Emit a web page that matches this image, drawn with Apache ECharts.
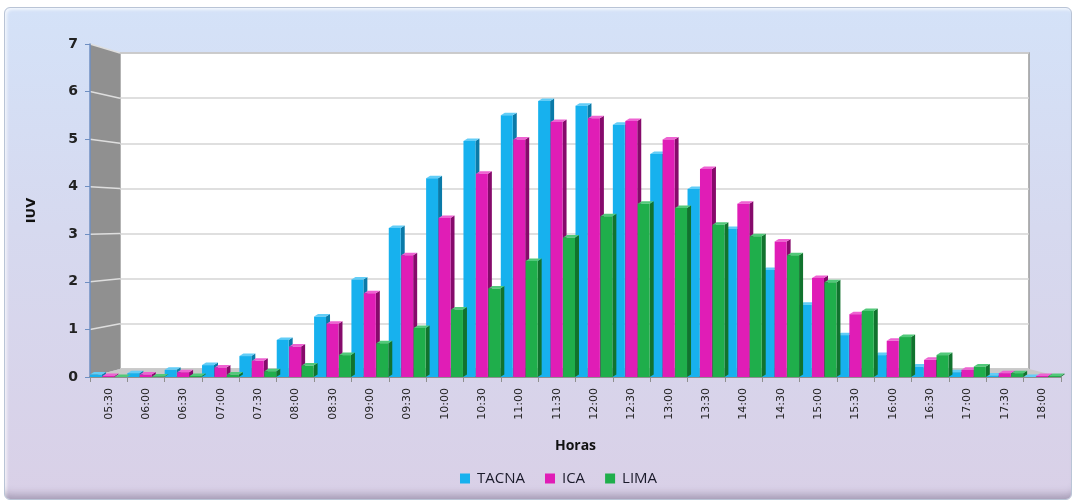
<!DOCTYPE html>
<html>
<head>
<meta charset="utf-8">
<script src="https://cdn.jsdelivr.net/npm/echarts@6/dist/echarts.min.js"></script>
<style>
  html, body { margin: 0; padding: 0; background: #fff; }
  #panel {
    position: absolute; left: 4px; top: 7px; width: 1068px; height: 493px;
    border-radius: 6px; border: 1px solid #b9c4d6; box-sizing: border-box;
    background: linear-gradient(to bottom, #d4e2f8 0%, #d6d9ef 45%, #d9d0e7 100%);
    box-shadow: inset 0 -12px 8px -8px rgba(60,50,80,0.35), inset 2px 2px 3px rgba(255,255,255,0.7);
  }
  #chart { position: absolute; left: 0; top: 0; width: 1076px; height: 502px; }
</style>
</head>
<body>
<div id="panel"></div>
<div id="chart"></div>
<script>
// horas
const horas = ['05:30', '06:00', '06:30', '07:00', '07:30', '08:00', '08:30', '09:00', '09:30',
  '10:00', '10:30', '11:00', '11:30', '12:00', '12:30', '13:00', '13:30', '14:00', '14:30',
  '15:00', '15:30', '16:00', '16:30', '17:00', '17:30', '18:00']

// IUV por ciudad
const tacna = [0.05, 0.08, 0.15, 0.25, 0.44, 0.78, 1.27, 2.05, 3.13, 4.18, 4.96, 5.5, 5.8, 5.7,
  5.3, 4.69, 3.95, 3.11, 2.25, 1.52, 0.88, 0.46, 0.22, 0.1, 0.03, 0]
const ica = [0.02, 0.05, 0.1, 0.2, 0.34, 0.64, 1.12, 1.76, 2.56, 3.34, 4.27, 4.99, 5.36, 5.44,
  5.38, 4.99, 4.37, 3.64, 2.85, 2.08, 1.32, 0.76, 0.36, 0.15, 0.08, 0.02]
const lima = [0, 0.01, 0.02, 0.05, 0.12, 0.24, 0.46, 0.71, 1.03, 1.42, 1.86, 2.44, 2.93, 3.38,
  3.64, 3.55, 3.2, 2.96, 2.56, 1.99, 1.39, 0.84, 0.46, 0.22, 0.08, 0.02]

const yTicks = [0, 1, 2, 3, 4, 5, 6, 7]

const colores = ['#17b1ee', '#e01db6', '#1fae4b']
const lados = ['#0a7aa8', '#860a6b', '#11732e']
const techos = ['#62cdf7', '#ee62d2', '#52c97a']

const myChart = echarts.init(document.getElementById('chart'))

// barra 3D: cara frontal + lateral + techo
function barra3d (params, api) {
  const k = params.seriesIndex
  const v = api.value(1)
  const c = api.coord([api.value(0), v])
  const base = api.coord([api.value(0), 0])[1]
  const bw = api.size([1, 0])[0]
  const w = bw / 3
  const d = 4 // profundidad
  const h = 2.5
  const x0 = c[0] - bw / 2 + k * w
  const x1 = x0 + w - 0.5
  const yt = c[1]
  return {
    type: 'group',
    children: [
      { type: 'polygon', shape: { points: [[x1, yt], [x1 + d, yt - h], [x1 + d, base - h], [x1, base]] },
        style: { fill: lados[k] } },
      { type: 'polygon', shape: { points: [[x0, yt], [x0 + d, yt - h], [x1 + d, yt - h], [x1, yt]] },
        style: { fill: techos[k] } },
      { type: 'rect', shape: { x: x0, y: yt, width: x1 - x0, height: base - yt },
        style: { fill: colores[k] } }
    ]
  }
}

function serie (nombre, datos) {
  return {
    name: nombre,
    type: 'custom',
    xAxisIndex: 0,
    yAxisIndex: 0,
    z: 5,
    renderItem: barra3d,
    encode: { x: 0, y: 1 },
    data: datos.map((v, i) => [i, v])
  }
}

const option = {
  animation: false,
  textStyle: { fontFamily: 'DejaVu Sans' },
  grid: [
    { left: 90, right: 15, top: 44, bottom: 125 },
    // pared del fondo
    { left: 120, right: 47, top: 53, bottom: 133, show: true, backgroundColor: '#ffffff',
      borderColor: '#9a9a9a', borderWidth: 1.5, z: 0 }
  ],
  legend: {
    bottom: 11,
    left: 455,
    icon: 'rect',
    itemWidth: 10,
    itemHeight: 10,
    itemGap: 20,
    textStyle: { fontSize: 15, color: '#1a1a2a', fontFamily: 'Open Sans', padding: [0, 0, 0, 2] },
    data: [
      { name: 'TACNA', itemStyle: { color: colores[0] } },
      { name: 'ICA', itemStyle: { color: colores[1] } },
      { name: 'LIMA', itemStyle: { color: colores[2] } }
    ]
  },
  xAxis: [
    {
      gridIndex: 0,
      type: 'category',
      data: horas,
      name: 'Horas',
      nameLocation: 'middle',
      nameGap: 62,
      nameTextStyle: { fontWeight: 'bold', fontSize: 14, color: '#111', fontFamily: 'Open Sans' },
      axisLine: { lineStyle: { color: '#8f8f8f', width: 2 } },
      axisTick: { show: true, length: 5, lineStyle: { color: '#8f8f8f' } },
      axisLabel: { rotate: 90, fontSize: 11, color: '#222', margin: 11 },
      z: 3
    },
    { gridIndex: 1, type: 'value', show: false }
  ],
  yAxis: [
    {
      gridIndex: 0,
      type: 'value',
      min: 0,
      max: 7,
      interval: 1,
      name: 'IUV',
      nameLocation: 'middle',
      nameRotate: 90,
      nameGap: 52,
      nameTextStyle: { fontWeight: 'bold', fontSize: 13, color: '#111' },
      axisLine: { show: true, lineStyle: { color: '#6f8fc2', width: 1.5 } },
      axisTick: { show: true, length: 5, lineStyle: { color: '#6f8fc2' } },
      axisLabel: { fontSize: 14, fontWeight: 'bold', color: '#222', margin: 12,
        formatter: v => yTicks.includes(v) ? String(v) : '' },
      splitLine: { show: false },
      z: 3
    },
    {
      gridIndex: 1,
      type: 'value',
      min: 0,
      max: 7,
      interval: 1,
      axisLine: { show: false },
      axisTick: { show: false },
      axisLabel: { show: false },
      splitLine: { show: true, lineStyle: { color: '#d4d4d4', width: 1.5 } },
      z: 1
    }
  ],
  series: [
    serie('TACNA', tacna),
    serie('ICA', ica),
    serie('LIMA', lima)
  ]
}

myChart.setOption(option)

// paredes laterales y piso (decoracion 3D)
const xf = 90, xb = 120
const yF = v => myChart.convertToPixel({ yAxisIndex: 0 }, v)
const yB = v => myChart.convertToPixel({ yAxisIndex: 1 }, v)
const xRight = 1029, xRightF = 1061
const graficos = [
  { type: 'polygon', z: 1,
    shape: { points: [[xf, yF(7)], [xb, yB(7)], [xb, yB(0)], [xf, yF(0)]] },
    style: { fill: '#909090' } },
  { type: 'polygon', z: 1,
    shape: { points: [[xf, yF(0)], [xb, yB(0)], [xRight, yB(0)], [xRightF, yF(0)]] },
    style: { fill: '#c9c9c9' } }
]
yTicks.forEach(v => {
  if (v === 0) return
  graficos.push({ type: 'line', z: 1,
    shape: { x1: xf, y1: yF(v), x2: xb, y2: yB(v) },
    style: { stroke: '#dedede', lineWidth: 1.5 } })
})
myChart.setOption({ graphic: graficos })

window.addEventListener('resize', function () {
  myChart.resize()
})
</script>
</body>
</html>
